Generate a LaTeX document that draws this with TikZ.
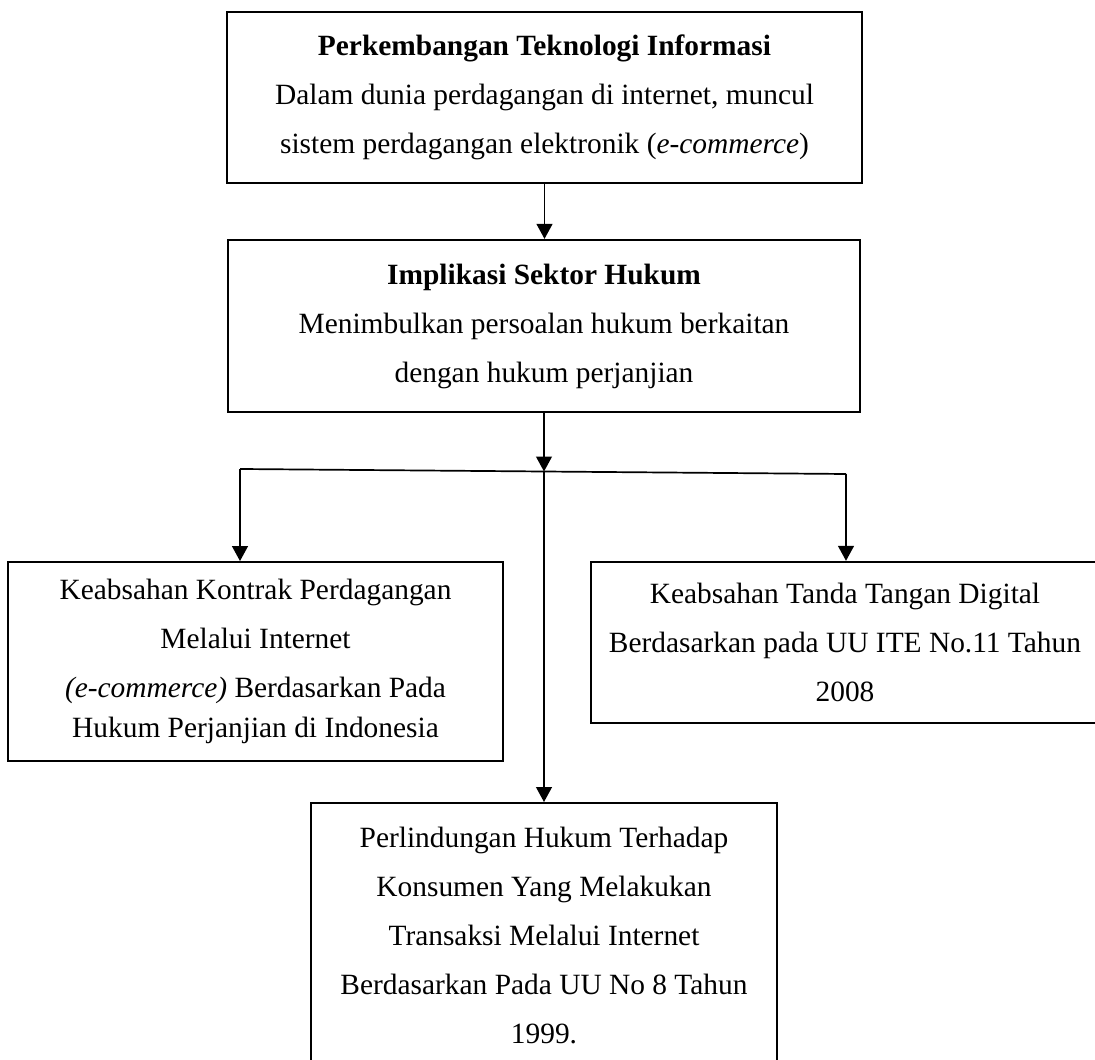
\documentclass[tikz,border=0pt]{standalone}
\usepackage{fontspec}
\setmainfont{Liberation Serif}
\usetikzlibrary{arrows.meta}

\begin{document}
\begin{tikzpicture}[>={Triangle[length=7pt,width=7.4pt]},x=0.0165cm,y=-0.0165cm,
    flowbox/.style={draw,line width=0.95pt,inner sep=0pt,align=center,
      font=\fontsize{13.8}{23}\selectfont},
    link/.style={line width=0.8pt}]

  % page frame (reference pixels, y downwards)
  \useasboundingbox (0,0) rectangle (1095,1060);

  % =====================================================================
  % TOP CHAIN: teknologi -> implikasi
  % =====================================================================
  \node[flowbox,minimum width=10.48cm,minimum height=2.82cm]
        (tekno) at (544.5,97.5)
        {\textbf{Perkembangan Teknologi Informasi}\\
         Dalam dunia perdagangan di internet, muncul\\
         sistem perdagangan elektronik (\textit{e-commerce})};

  \node[flowbox,minimum width=10.43cm,minimum height=2.84cm]
        (implikasi) at (544,326)
        {\textbf{Implikasi Sektor Hukum}\\
         Menimbulkan persoalan hukum berkaitan\\
         dengan hukum perjanjian};

  % =====================================================================
  % THREE BRANCHES
  % =====================================================================
  \node[flowbox,minimum width=8.17cm,minimum height=3.28cm]
        (kontrak) at (255.5,661.5)
        {Keabsahan Kontrak Perdagangan\\
         Melalui Internet\\
         \textit{(e-commerce)} Berdasarkan Pada\\[-4pt]
         Hukum Perjanjian di Indonesia};

  % right box runs past the page edge
  \node[flowbox,minimum width=8.38cm,minimum height=2.66cm]
        (ttd) at (845,642.5)
        {Keabsahan Tanda Tangan Digital\\
         Berdasarkan pada UU ITE No.11 Tahun\\
         2008};

  % bottom box runs past the page edge
  \node[flowbox,minimum width=7.69cm,minimum height=4.37cm]
        (konsumen) at (544,935.5)
        {Perlindungan Hukum Terhadap\\
         Konsumen Yang Melakukan\\
         Transaksi Melalui Internet\\
         Berdasarkan Pada UU No 8 Tahun\\
         1999.};

  % split points
  \coordinate (lbr) at (240,469);
  \coordinate (rbr) at (846,474);
  \coordinate (split) at (544,471.5);

  % connectors
  \draw[link,->] (tekno.south) -- (tekno.south |- implikasi.north);
  \draw[link,->] (implikasi.south) -- (split);
  \draw[link] (lbr) -- (rbr);
  \draw[link,->] (lbr) -- (lbr |- kontrak.north);
  \draw[link,->] (rbr) -- (rbr |- ttd.north);
  \draw[link,->] (split) -- (split |- konsumen.north);

\end{tikzpicture}
\end{document}
